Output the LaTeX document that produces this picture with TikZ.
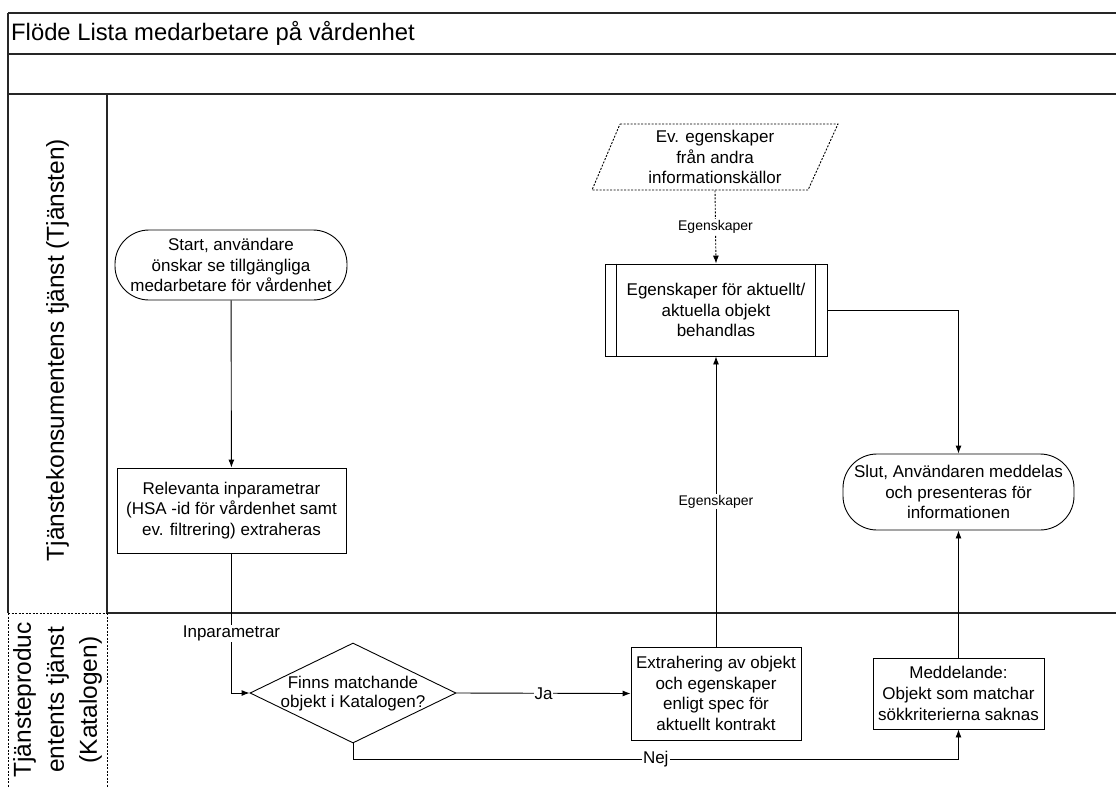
\documentclass[tikz,border=0pt]{standalone}
\usepackage{fontspec}
\setmainfont{Liberation Sans}
\usetikzlibrary{arrows.meta,shapes.geometric}
\begin{document}
\begin{tikzpicture}[x=1pt,y=-1pt,
  lane/.style={line width=1.3pt,draw=black!85},
  box/.style={draw,line width=0.9pt,align=center,font=\fontsize{17}{20.7}\selectfont,inner sep=0pt},
  term/.style={box,rounded corners=34pt},
  arr/.style={line width=0.9pt,-{Latex[length=8pt,width=6pt]}},
  elab/.style={fill=white,inner sep=1pt,font=\fontsize{17}{20}\selectfont},
  slab/.style={fill=white,inner sep=1pt,font=\fontsize{14}{16}\selectfont},
  lanelab/.style={rotate=90,align=center,font=\fontsize{24.5}{33}\selectfont}]
\useasboundingbox (0,0) rectangle (1116,787);
\fill[white] (0,0) rectangle (1116,787);
% swimlane frame
\draw[lane] (8,13) -- (1116,13);
\draw[lane] (8,54) -- (1116,54);
\draw[lane] (8,94) -- (1116,94);
\draw[lane] (107,613) -- (1116,613);
\draw[lane] (8,13) -- (8,613);
\draw[lane] (107,94) -- (107,613);
\draw[line width=0.9pt,dash pattern=on 2pt off 1.5pt] (8,613) -- (107,613);
\draw[line width=0.9pt,dash pattern=on 2pt off 1.5pt] (8,613) -- (8,787);
\draw[line width=0.9pt,dash pattern=on 2pt off 1.5pt] (107,613) -- (107,787);
\node[anchor=west,inner sep=0pt,font=\fontsize{23.8}{28}\selectfont] (title) at (11,33) {Flöde Lista medarbetare på vårdenhet};
\node[lanelab] (lane1) at (57.5,350) {Tjänstekonsumentens tjänst (Tjänsten)};
\node[lanelab] (lane2) at (57.5,700) {Tjänsteproduc\\entents tjänst\\(Katalogen)};
% nodes
\node[term,minimum width=232pt,minimum height=70pt] (start) at (231,265) {Start, användare\\önskar se tillgängliga\\medarbetare för vårdenhet};
\node[box,minimum width=229pt,minimum height=85pt] (rel) at (231.5,510.5) {Relevanta inparametrar\\(HSA -id för vårdenhet samt\\ev. filtrering) extraheras};
\node[box,draw=none,minimum width=216pt,minimum height=66pt] (par) at (715,157) {Ev. egenskaper\\från andra\\informationskällor};
\draw[line width=0.9pt,dash pattern=on 2pt off 1.5pt] (620,124) -- (838,124) -- (808,190) -- (592,190) -- cycle;
\node[box,minimum width=222pt,minimum height=92pt] (proc) at (716,310) {Egenskaper för aktuellt/\\aktuella objekt\\behandlas};
\draw[line width=0.9pt] ([xshift=12pt]proc.north west) -- ([xshift=12pt]proc.south west);
\draw[line width=0.9pt] ([xshift=-12pt]proc.north east) -- ([xshift=-12pt]proc.south east);
\node[term,minimum width=231pt,minimum height=76pt] (slut) at (958.5,492) {Slut, Användaren meddelas\\och presenteras för\\informationen};
\node[diamond,draw,line width=0.9pt,minimum width=206pt,minimum height=100pt,inner sep=0pt] (dec) at (353,693) {};
\node[align=center,font=\fontsize{17}{19.5}\selectfont,inner sep=0pt] (dectext) at (353,693.5) {Finns matchande\\objekt i Katalogen?};
\node[box,minimum width=170pt,minimum height=93pt] (ext) at (716,693.5) {Extrahering av objekt\\och egenskaper\\enligt spec för\\aktuellt kontrakt};
\node[box,minimum width=171pt,minimum height=71pt] (med) at (958.5,693.5) {Meddelande:\\Objekt som matchar\\sökkriterierna saknas};
% connectors
\draw[arr] (start) -- (rel);
\draw[arr] (rel.south) |- node[elab,pos=0.286] {Inparametrar} (dec.west);
\draw[arr] (dec.east) -- node[elab] {Ja} (ext.west);
\draw[arr] (dec.south) -- ++(0,16) -| node[elab,pos=0.25] {Nej} (med.south);
\draw[arr] (ext.north) -- node[slab] {Egenskaper} (proc.south);
\draw[arr,dash pattern=on 2pt off 1.5pt] (par.south) -- node[slab] {Egenskaper} (proc.north);
\draw[arr] (proc.east) -| (slut.north);
\draw[arr] (med.north) -- (slut.south);
\end{tikzpicture}
\end{document}
